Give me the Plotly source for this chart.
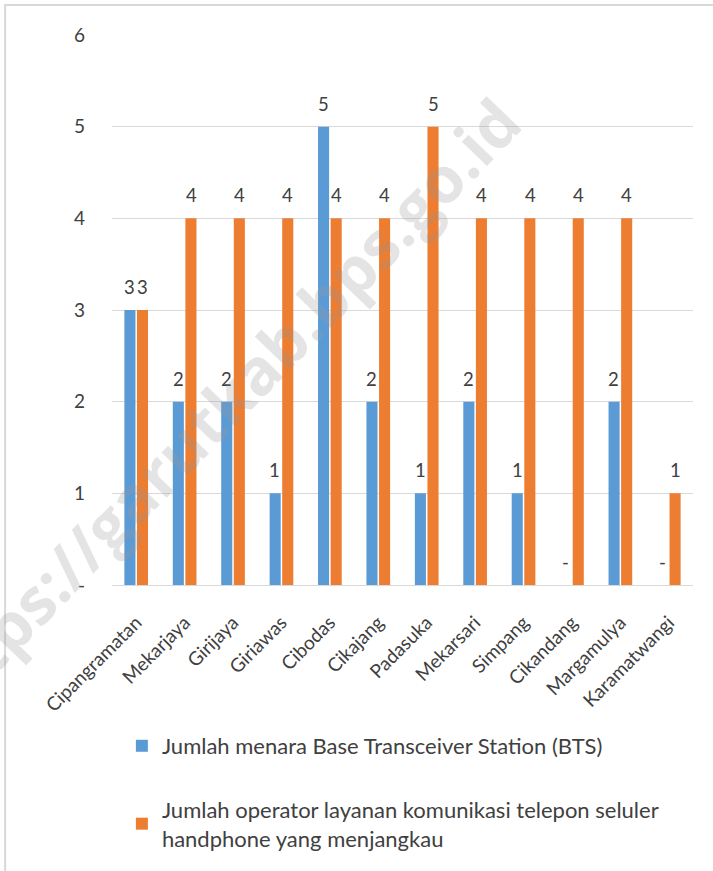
import plotly.graph_objects as go

categories = ["Cipangramatan", "Mekarjaya", "Girijaya", "Giriawas", "Cibodas", "Cikajang",
              "Padasuka", "Mekarsari", "Simpang", "Cikandang", "Margamulya", "Karamatwangi"]
bts = [3, 2, 2, 1, 5, 2, 1, 2, 1, 0, 2, 0]
operators = [3, 4, 4, 4, 4, 4, 5, 4, 4, 4, 4, 1]
series_names = ["Jumlah menara Base Transceiver Station (BTS)",
                "Jumlah operator layanan komunikasi telepon seluler<br>handphone yang menjangkau"]
series_colors = ["#5B9BD5", "#ED7D31"]
y_tick_vals = [0, 1, 2, 3, 4, 5, 6]
y_tick_text = ["-", "1", "2", "3", "4", "5", "6"]

FONT = "Lato, 'Open Sans', sans-serif"
TXT = "#404040"


def lab(v):
    return "-" if v == 0 else str(v)


fig = go.Figure()
for name, vals, col, grp in [(series_names[0], bts, series_colors[0], "a"),
                             (series_names[1], operators, series_colors[1], "b")]:
    fig.add_trace(go.Bar(x=categories, y=vals, name=name, marker_color=col,
                         marker_line_width=0, legendgroup=grp, hoverinfo="skip"))

annotations = []
for vals, shift in [(bts, -6.5), (operators, 6.5)]:
    for c, v in zip(categories, vals):
        annotations.append(dict(x=c, y=v, xref="x", yref="y", text=lab(v), showarrow=False,
                                xshift=shift, yshift=23,
                                font=dict(size=18.5, color=TXT, family=FONT)))

annotations.append(dict(text="https://garutkab.bps.go.id", xref="paper", yref="paper",
                        x=0.18, y=0.318, xanchor="center", yanchor="middle",
                        showarrow=False, textangle=-46,
                        font=dict(size=64, family="'Open Sans', sans-serif",
                                  color="rgba(150,150,150,0.26)", weight="bold")))

fig.update_layout(
    width=713, height=871,
    margin=dict(l=112, r=20, t=35, b=286),
    paper_bgcolor="white", plot_bgcolor="white",
    barmode="group", bargap=0.48, bargroupgap=0.12,
    font=dict(family=FONT, size=16, color="#595959"),
    showlegend=True,
    hovermode=False,
    legend=dict(orientation="v", x=0.017, y=-0.2545, xanchor="left", yanchor="top",
                font=dict(size=22, color=TXT), tracegroupgap=32, itemwidth=30),
    xaxis=dict(tickangle=-45, showgrid=False, showline=True, linecolor="#d9d9d9",
               ticks="", ticklabelstandoff=18, tickfont=dict(size=19, color=TXT)),
    yaxis=dict(range=[0, 6], tickvals=y_tick_vals, ticktext=y_tick_text, showgrid=True,
               gridcolor="#d9d9d9", gridwidth=1, zeroline=False, ticks="",
               ticklabelstandoff=26, tickfont=dict(size=19, color=TXT)),
    shapes=[dict(type="rect", xref="paper", yref="paper", x0=-0.184, y0=-1.0, x1=1.2, y1=1.0545,
                 line=dict(color="#d9d9d9", width=2), fillcolor="rgba(0,0,0,0)", layer="above")],
    annotations=annotations,
)

fig.write_html("out.html", config={"displayModeBar": False},
               post_script="document.body.style.margin='0px';")
